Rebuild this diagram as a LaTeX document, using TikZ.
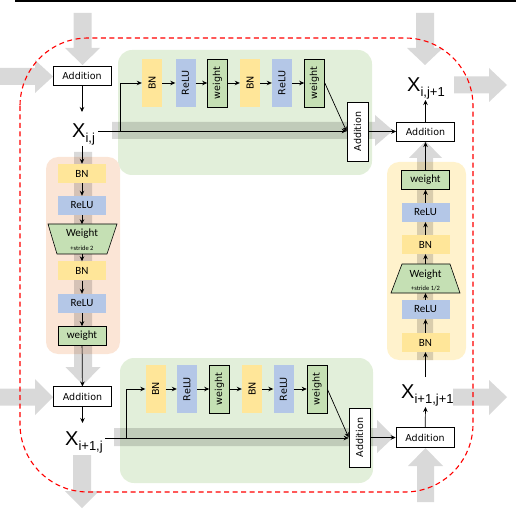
\documentclass[tikz,border=0pt]{standalone}
\usepackage{fontspec}
\setmainfont{Liberation Sans}
\newfontfamily\dvs{DejaVu Sans}
\newfontfamily\cbr{Carlito}
\usetikzlibrary{arrows.meta}
\definecolor{grnbox}{HTML}{E2EFDA}
\definecolor{orgbox}{HTML}{FBE5D6}
\definecolor{ylwbox}{HTML}{FFF2CC}
\definecolor{bnc}{HTML}{FFE699}
\definecolor{reluc}{HTML}{B4C7E7}
\definecolor{wtc}{HTML}{C5E0B4}
\newcommand{\Xsub}[1]{{\fontsize{20}{20}\selectfont X}\raisebox{-5pt}{\fontsize{13}{13}\selectfont #1}}
\begin{document}
\begin{tikzpicture}[x=1pt,y=-1pt,
  addbox/.style={draw, fill=white, line width=0.6pt, inner sep=0pt, minimum width=58pt, minimum height=19.5pt, font=\dvs\fontsize{9.5}{10}\selectfont},
  vaddbox/.style={addbox, rotate=90, minimum width=59pt, minimum height=21pt},
  rowbn/.style={fill=bnc, rotate=90, minimum width=48pt, minimum height=20pt, inner sep=0pt, font=\dvs\fontsize{9.6}{10}\selectfont},
  rowrelu/.style={rowbn, fill=reluc},
  rowwt/.style={rowbn, fill=wtc, draw, line width=0.6pt},
  colbn/.style={fill=bnc, minimum width=48pt, minimum height=19pt, inner sep=0pt, font=\cbr\fontsize{11}{11}\selectfont},
  colrelu/.style={colbn, fill=reluc},
  colwt/.style={colbn, fill=wtc, draw, line width=0.6pt},
  trap/.style={fill=wtc, draw, line width=0.6pt},
  trapanchor/.style={inner sep=0pt, minimum width=50pt, minimum height=29pt},
  wtext/.style={inner sep=0pt, font=\cbr\fontsize{11}{11}\selectfont},
  stext/.style={inner sep=0pt, font=\cbr\fontsize{6.5}{6.5}\selectfont},
  xlab/.style={anchor=base west, inner sep=0pt, font=\fontsize{20}{20}\selectfont},
  arr/.style={-{Stealth[length=5pt,width=4.5pt]}, line width=0.7pt},
  gfill/.style={fill=black, fill opacity=0.15},
  container/.style={rounded corners=14pt}
]
\useasboundingbox (0,0) rectangle (516,510);

% top rule
\draw[line width=1.4pt] (15,1) -- (516,1);

% containers
\fill[grnbox, container] (118,50) rectangle (372,175);
\fill[grnbox, container] (120,358) rectangle (373,483);
\fill[orgbox, rounded corners=12pt] (46,157) rectangle (120,354);
\fill[ylwbox, rounded corners=12pt] (387,162) rectangle (466,360);

% gray block arrows
\fill[gfill] (73.5,13) -- (91.5,13) -- (91.5,48) -- (100,48) -- (82.5,65) -- (65,48) -- (73.5,48) -- cycle;
\fill[gfill] (0,68) -- (35,68) -- (35,60) -- (53,76.5) -- (35,93) -- (35,85) -- (0,85) -- cycle;
\fill[gfill] (112,122) -- (375,122) -- (375,115) -- (393,130.5) -- (375,146) -- (375,139) -- (112,139) -- cycle;
\fill[gfill] (74,152) -- (92,152) -- (92,367) -- (100.5,367) -- (83,385) -- (65.5,367) -- (74,367) -- cycle;
\fill[gfill] (0,388.5) -- (35,388.5) -- (35,379) -- (53,397) -- (35,415) -- (35,405.5) -- (0,405.5) -- cycle;
\fill[gfill] (73,455) -- (91,455) -- (91,491) -- (99,491) -- (82,508) -- (65,491) -- (73,491) -- cycle;
\fill[gfill] (114,428) -- (377,428) -- (377,420) -- (394,437) -- (377,453) -- (377,446) -- (114,446) -- cycle;
\fill[gfill] (416,13) -- (434,13) -- (434,48) -- (443,48) -- (425,65) -- (407,48) -- (416,48) -- cycle;
\fill[gfill] (454,76.5) -- (489,76.5) -- (489,68) -- (507,85) -- (489,102) -- (489,93.5) -- (454,93.5) -- cycle;
\fill[gfill] (417,360) -- (433,360) -- (433,158) -- (442,158) -- (425.5,141) -- (409,158) -- (417,158) -- cycle;
\fill[gfill] (453,388.5) -- (489,388.5) -- (489,380) -- (507,397) -- (489,415) -- (489,405.5) -- (453,405.5) -- cycle;
\fill[gfill] (417,502) -- (434,502) -- (434,466) -- (443,466) -- (425.5,448) -- (408,466) -- (417,466) -- cycle;

% Addition boxes
\node[addbox] (addTL) at (82,76) {Addition};
\node[addbox] (addBL) at (82.5,396.5) {Addition};
\node[addbox] (addTR) at (425.5,132) {Addition};
\node[addbox] (addBR) at (425,437.5) {Addition};
\node[vaddbox] (vaddT) at (357.5,131.5) {Addition};
\node[vaddbox] (vaddB) at (359.5,437.5) {Addition};

% X labels
\node[xlab] (xA) at (72,137.5) {\Xsub{i,j}};
\node[xlab] (xB) at (407,92) {\Xsub{i,j+1}};
\node[xlab] (xC) at (65,445) {\Xsub{i+1,j}};
\node[xlab] (xD) at (401,398) {\Xsub{i+1,j+1}};
\coordinate (xAt) at (82,112);
\coordinate (xAb) at (82,146);
\coordinate (xAr) at (98,131);
\coordinate (xAbr) at (120,131);
\coordinate (xBb) at (425.5,100);
\coordinate (xCt) at (82.5,423);
\coordinate (xCr) at (105,438);
\coordinate (xCbr) at (126,438);
\coordinate (xDt) at (425.5,377);
\coordinate (xDb) at (425.5,407);

% top row
\node[rowbn] (bnA1) at (152,83) {BN};
\node[rowrelu] (reA1) at (185.5,83) {ReLU};
\node[rowwt] (wtA1) at (217.5,83) {weight};
\node[rowbn] (bnA2) at (250,83) {BN};
\node[rowrelu] (reA2) at (282,83) {ReLU};
\node[rowwt] (wtA2) at (314.5,83) {weight};

% bottom row
\node[rowbn] (bnB1) at (155.5,389) {BN};
\node[rowrelu] (reB1) at (187,389) {ReLU};
\node[rowwt] (wtB1) at (219.5,389) {weight};
\node[rowbn] (bnB2) at (252,389) {BN};
\node[rowrelu] (reB2) at (283.5,389) {ReLU};
\node[rowwt] (wtB2) at (317,389) {weight};

% left column
\node[colbn] (bnL1) at (82,173.5) {BN};
\node[colrelu] (reL1) at (82,205.5) {ReLU};
\draw[trap] (48,224) -- (117,224) -- (107,254) -- (57,254) -- cycle;
\node[trapanchor] (wL) at (82,239) {};
\node[wtext] (wLa) at (82,234) {Weight};
\node[stext] (wLb) at (82,248) {+stride 2};
\node[colbn] (bnL2) at (82,271) {BN};
\node[colrelu] (reL2) at (82,303.5) {ReLU};
\node[colwt] (wtL) at (82,336) {weight};

% right column
\node[colbn] (bnR1) at (425.5,342.5) {BN};
\node[colrelu] (reR1) at (425.5,309.5) {ReLU};
\draw[trap] (402,264) -- (450,264) -- (460,293) -- (391,293) -- cycle;
\node[trapanchor] (wR) at (425.5,278.5) {};
\node[wtext] (wRa) at (425.5,274.5) {Weight};
\node[stext] (wRb) at (425.5,288) {+stride 1/2};
\node[colbn] (bnR2) at (425.5,244.5) {BN};
\node[colrelu] (reR2) at (425.5,212.5) {ReLU};
\node[colwt] (wtR) at (425.5,180) {weight};

% connectors top
\draw[arr] (addTL) -- (xAt);
\draw[arr] (xAr) -- (xAr -| vaddT.north);
\draw[arr] (xAbr) |- (bnA1);
\draw[arr] (bnA1) -- (reA1);
\draw[arr] (reA1) -- (wtA1);
\draw[arr] (wtA1) -- (bnA2);
\draw[arr] (bnA2) -- (reA2);
\draw[arr] (reA2) -- (wtA2);
\draw[arr] (wtA2.south) -- (vaddT.north);
\draw[arr] (vaddT.south) -- (vaddT.south -| addTR.west);
\draw[arr] (addTR) -- (xBb);
\draw[arr] (wtR) -- (addTR);

% right column connectors
\draw[arr] (xDt) -- (bnR1);
\draw[arr] (bnR1) -- (reR1);
\draw[arr] (reR1) -- (wR);
\draw[arr] (wR) -- (bnR2);
\draw[arr] (bnR2) -- (reR2);
\draw[arr] (reR2) -- (wtR);

% left column connectors
\draw[arr] (xAb) -- (bnL1);
\draw[arr] (bnL1) -- (reL1);
\draw[arr] (reL1) -- (wL);
\draw[arr] (wL) -- (bnL2);
\draw[arr] (bnL2) -- (reL2);
\draw[arr] (reL2) -- (wtL);
\draw[arr] (wtL) -- (addBL);

% bottom connectors
\draw[arr] (addBL) -- (xCt);
\draw[arr] (xCr) -- (xCr -| vaddB.north);
\draw[arr] (xCbr) |- (bnB1);
\draw[arr] (bnB1) -- (reB1);
\draw[arr] (reB1) -- (wtB1);
\draw[arr] (wtB1) -- (bnB2);
\draw[arr] (bnB2) -- (reB2);
\draw[arr] (reB2) -- (wtB2);
\draw[arr] (wtB2.south) -- (vaddB.north);
\draw[arr] (vaddB.south) -- (vaddB.south -| addBR.west);
\draw[arr] (addBR) -- (xDb);

% red dashed frame
\draw[red, line width=1.1pt, dash pattern=on 5pt off 3.5pt, rounded corners=68pt] (20,38) rectangle (473,492);
\end{tikzpicture}
\end{document}
